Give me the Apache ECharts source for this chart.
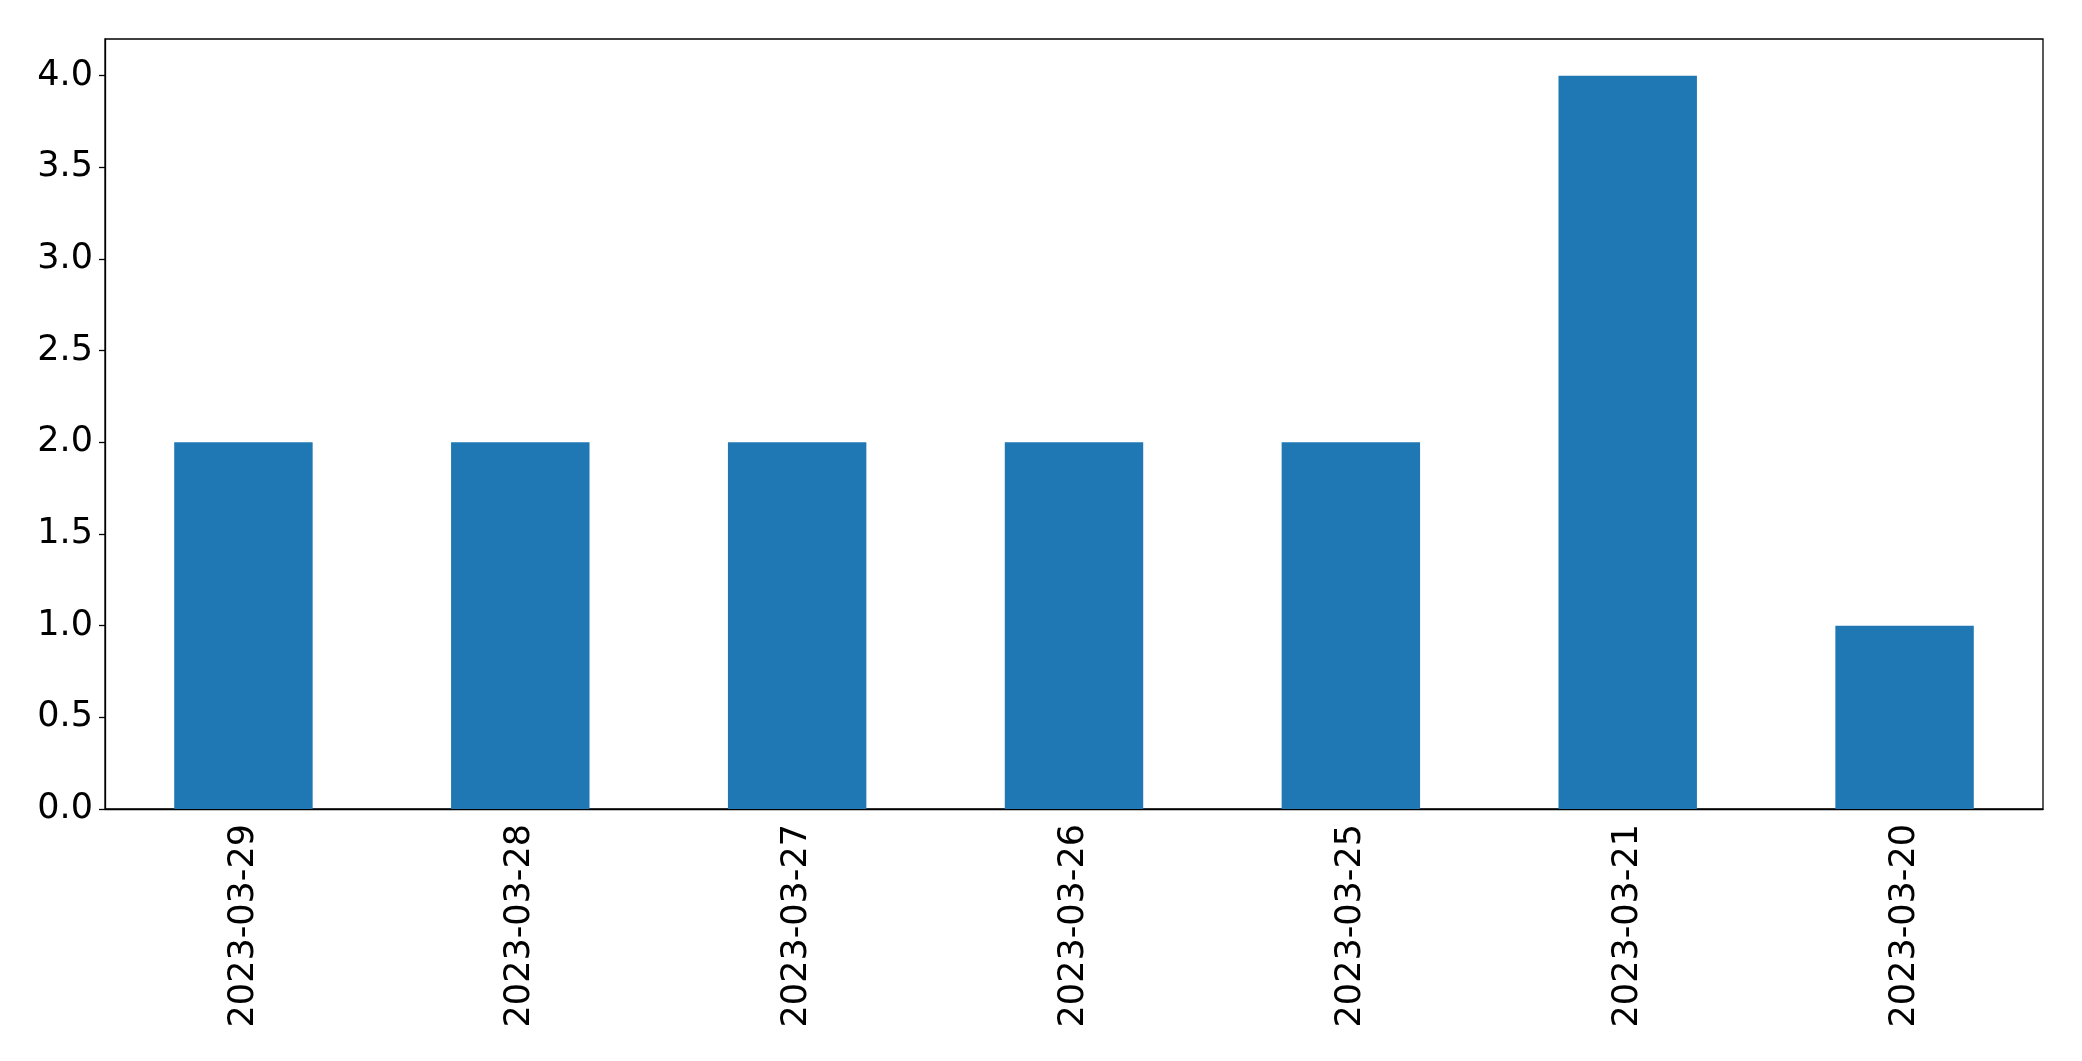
<!DOCTYPE html>
<html>
<head>
<meta charset="utf-8">
<script src="https://cdn.jsdelivr.net/npm/echarts@6/dist/echarts.min.js"></script>
<style>
  html, body { margin: 0; padding: 0; background: #fff; }
  #main { width: 2082px; height: 1061px; }
</style>
</head>
<body>
<div id="main"></div>
<script>
// data
var dates = ['2023-03-29', '2023-03-28', '2023-03-27', '2023-03-26', '2023-03-25', '2023-03-21', '2023-03-20'];
var counts = [2, 2, 2, 2, 2, 4, 1];
var yTicks = [0, 0.5, 1, 1.5, 2, 2.5, 3, 3.5, 4];

var myChart = echarts.init(document.getElementById('main'));

var option = {
    animation: false,
    textStyle: {fontFamily: 'DejaVu Sans'},
    grid: {
        left: 105, right: 39, top: 39, bottom: 252,
        show: true, borderColor: '#000', borderWidth: 1.3,
        containLabel: false
    },
    xAxis: {
        type: 'category',
        data: dates,
        axisLine: {lineStyle: {color: '#000', width: 1.3}},
        axisTick: {alignWithLabel: true, length: 6, lineStyle: {color: '#000', width: 1.3}},
        axisLabel: {rotate: 90, margin: 15, fontSize: 35, color: '#000', fontFamily: 'DejaVu Sans'}
    },
    yAxis: {
        type: 'value',
        min: 0,
        max: 4.2,
        splitLine: {show: false},
        axisLine: {show: true, lineStyle: {color: '#000', width: 1.3}},
        axisTick: {show: true, length: 6, customValues: yTicks, lineStyle: {color: '#000', width: 1.3}},
        axisLabel: {
            margin: 12, fontSize: 35, color: '#000', fontFamily: 'DejaVu Sans',
            customValues: yTicks,
            formatter: function (v) { return v.toFixed(1); }
        }
    },
    series: [
        {type: 'bar', data: counts, barWidth: '50%', itemStyle: {color: '#1f77b4'}}
    ]
};

myChart.setOption(option);

window.onresize = function () {
    myChart.resize();
};
</script>
</body>
</html>
